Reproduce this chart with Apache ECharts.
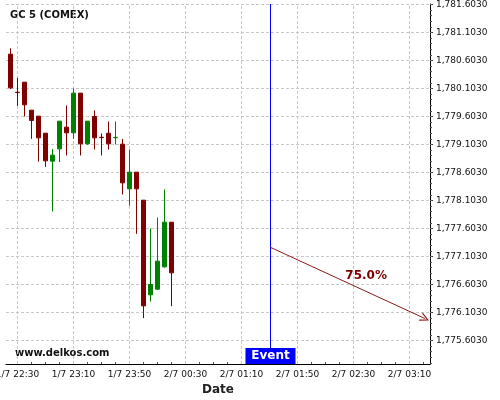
<!DOCTYPE html>
<html><head><meta charset="utf-8">
<script src="https://cdn.jsdelivr.net/npm/echarts@6/dist/echarts.min.js"></script>
<style>html,body{margin:0;padding:0;background:#fff}#c{width:500px;height:400px}</style>
</head><body><div id="c"></div>
<script>
// time in minutes since 1/7 00:00
const times = [1345,1350,1355,1360,1365,1370,1375,1380,1385,1390,1395,1400,1405,1410,1415,1420,1425,1430,1435,1440,1445,1450,1455,1460];
const opens  = [1780.716,1780.036,1780.216,1779.716,1779.609,1779.305,1778.805,1779.025,1779.413,1779.311,1780.020,1779.115,1779.603,1779.232,1779.305,1779.224,1779.109,1778.311,1778.609,1778.109,1776.418,1776.520,1776.918,1777.716];
const closes = [1780.115,1780.030,1779.811,1779.532,1779.222,1778.811,1778.913,1779.520,1779.311,1780.020,1779.115,1779.520,1779.222,1779.226,1779.115,1779.230,1778.418,1778.609,1778.311,1776.222,1776.603,1777.020,1777.716,1776.811];
const lows   = [1780.091,1779.793,1779.603,1779.204,1778.799,1778.704,1777.907,1778.790,1778.907,1779.204,1778.907,1779.097,1779.014,1778.907,1779.014,1779.103,1778.210,1778.010,1777.508,1776.002,1776.300,1776.508,1776.907,1776.216];
const highs  = [1780.822,1780.293,1780.216,1779.716,1779.609,1779.305,1779.020,1779.520,1779.800,1780.103,1780.020,1779.520,1779.710,1779.300,1779.514,1779.514,1779.204,1779.014,1778.609,1778.109,1777.603,1777.800,1778.300,1777.716];

const xTicks = [1350,1390,1430,1470,1510,1550,1590,1630];
const xTickLabels = ['1/7 22:30','1/7 23:10','1/7 23:50','2/7 00:30','2/7 01:10','2/7 01:50','2/7 02:30','2/7 03:10'];
const xMinorTicks = [1350,1360,1370,1380,1390,1400,1410,1420,1430,1440,1450,1460,1470,1480,1490,1500,1510,1520,1530,1540,1550,1560,1570,1580,1590,1600,1610,1620,1630,1640];
const yTicks = [1775.603,1776.103,1776.603,1777.103,1777.603,1778.103,1778.603,1779.103,1779.603,1780.103,1780.603,1781.103,1781.603];
const yTickLabels = ['1,775.6030','1,776.1030','1,776.6030','1,777.1030','1,777.6030','1,778.1030','1,778.6030','1,779.1030','1,779.6030','1,780.1030','1,780.6030','1,781.1030','1,781.6030'];
const yMinorTicks = [1775.203,1775.303,1775.403,1775.503,1775.603,1775.703,1775.803,1775.903,1776.003,1776.103,1776.203,1776.303,1776.403,1776.503,1776.603,1776.703,1776.803,1776.903,1777.003,1777.103,1777.203,1777.303,1777.403,1777.503,1777.603,1777.703,1777.803,1777.903,1778.003,1778.103,1778.203,1778.303,1778.403,1778.503,1778.603,1778.703,1778.803,1778.903,1779.003,1779.103,1779.203,1779.303,1779.403,1779.503,1779.603,1779.703,1779.803,1779.903,1780.003,1780.103,1780.203,1780.303,1780.403,1780.503,1780.603,1780.703,1780.803,1780.903,1781.003,1781.103,1781.203,1781.303,1781.403,1781.503,1781.603];

const xMin = 1341.786, xMax = 1644.643;
const yMin = 1775.1834, yMax = 1781.6119;

const eventTime = 1530.7;
const eventLabel = 'Event';
const arrowStart = [1530.7, 1777.266];
const arrowEnd = [1641, 1775.996];
const probText = '75.0%';
const probPos = [1599, 1776.753];

const candleData = times.map((t, i) => [t, opens[i], closes[i], lows[i], highs[i]]);

const gridColor = '#c8c8c8';
const font = 'DejaVu Sans';
const chevron = 'path://M5,0 L10,10 L8.6,10 L5,2.6 L1.4,10 L0,10 Z';

const gridLineStyle = {color: gridColor, type: [3, 2], width: 1};
const gridLines = [];
xTicks.forEach(x => gridLines.push([{coord: [x, yMin]}, {coord: [x, yMax]}]));
yTicks.forEach(y => gridLines.push([{coord: [xMin, y]}, {coord: [xMax, y]}]));

const chart = echarts.init(document.getElementById('c'), null, {renderer: 'canvas'});
chart.setOption({
  animation: false,
  backgroundColor: '#ffffff',
  textStyle: {fontFamily: font},
  grid: {left: 6, right: 70, top: 4, bottom: 36, containLabel: false, outerBoundsMode: 'none'},
  graphic: [
    {type: 'text', left: 10, top: 10, style: {text: 'GC 5 (COMEX)', font: 'bold 10px "DejaVu Sans"', fill: '#111'}},
    {type: 'text', left: 15, top: 348, style: {text: 'www.delkos.com', font: 'bold 10px "DejaVu Sans"', fill: '#111'}}
  ],
  xAxis: [{
    type: 'value', min: xMin, max: xMax, position: 'bottom',
    name: 'Date', nameLocation: 'middle', nameGap: 19,
    nameTextStyle: {fontFamily: font, fontWeight: 'bold', fontSize: 12, color: '#222'},
    axisLine: {show: true, onZero: false, lineStyle: {color: '#000', width: 1}},
    axisTick: {show: true, inside: true, length: 2, customValues: xTicks, lineStyle: {color: '#555'}},
    axisLabel: {show: true, customValues: xTicks, margin: 6, fontFamily: font, fontSize: 9, color: '#111',
      formatter: v => xTickLabels[xTicks.indexOf(v)] || ''},
    splitLine: {show: false}
  }, {
    type: 'value', min: xMin, max: xMax, position: 'bottom', gridIndex: 0,
    axisLine: {show: false}, axisLabel: {show: false}, splitLine: {show: false},
    axisTick: {show: true, inside: true, length: 2, customValues: xMinorTicks, lineStyle: {color: '#555'}}
  }],
  yAxis: [{
    type: 'value', min: yMin, max: yMax, position: 'right', scale: true,
    axisLine: {show: true, onZero: false, lineStyle: {color: '#000', width: 1}},
    axisTick: {show: true, inside: false, length: 3, customValues: yTicks, lineStyle: {color: '#333'}},
    axisLabel: {show: true, customValues: yTicks, margin: 6, fontFamily: font, fontSize: 9, color: '#111',
      formatter: v => { const i = yTicks.findIndex(t => Math.abs(t - v) < 1e-6); return i >= 0 ? yTickLabels[i] : ''; }},
    splitLine: {show: false}
  }, {
    type: 'value', min: yMin, max: yMax, position: 'right', scale: true,
    axisLine: {show: false}, axisLabel: {show: false}, splitLine: {show: false},
    axisTick: {show: true, inside: false, length: 2, customValues: yMinorTicks, lineStyle: {color: '#555'}}
  }],
  series: [{
    type: 'line', data: [], z: 1, silent: true,
    xAxisIndex: 0, yAxisIndex: 0,
    markLine: {silent: true, animation: false, z: 1, symbol: 'none', label: {show: false},
      lineStyle: gridLineStyle, data: gridLines}
  }, {
    type: 'candlestick',
    xAxisIndex: 0, yAxisIndex: 0, z: 3,
    encode: {x: 0, y: [1, 2, 3, 4]},
    data: candleData,
    barWidth: 4,
    itemStyle: {color: '#008000', color0: '#800000', borderColor: '#008000', borderColor0: '#800000', borderWidth: 1},
    markLine: {
      silent: true, animation: false, z: 4,
      data: [
        [{coord: [eventTime, yMax], symbol: 'none', lineStyle: {color: '#0000ff', width: 1, type: 'solid'}, label: {show: false}},
         {coord: [eventTime, yMin], symbol: 'none'}],
        [{coord: arrowStart, symbol: 'none', lineStyle: {color: '#8b1a1a', width: 1, type: 'solid'}, label: {show: false}},
         {coord: arrowEnd, symbol: chevron, symbolSize: [9, 9]}]
      ]
    },
    markPoint: {
      silent: true, animation: false, z: 5,
      data: [
        {coord: [eventTime, yMin], symbol: 'rect', symbolSize: [50, 16], symbolOffset: [0, -8],
         itemStyle: {color: '#0000ff'},
         label: {show: true, position: 'inside', formatter: eventLabel, color: '#fff', fontFamily: font, fontWeight: 'bold', fontSize: 12}},
        {coord: probPos, symbol: 'circle', symbolSize: 1, itemStyle: {color: 'rgba(0,0,0,0)'},
         label: {show: true, position: 'inside', formatter: probText, color: '#800000', fontFamily: font, fontWeight: 'bold', fontSize: 12}}
      ]
    }
  }]
});
</script></body></html>
